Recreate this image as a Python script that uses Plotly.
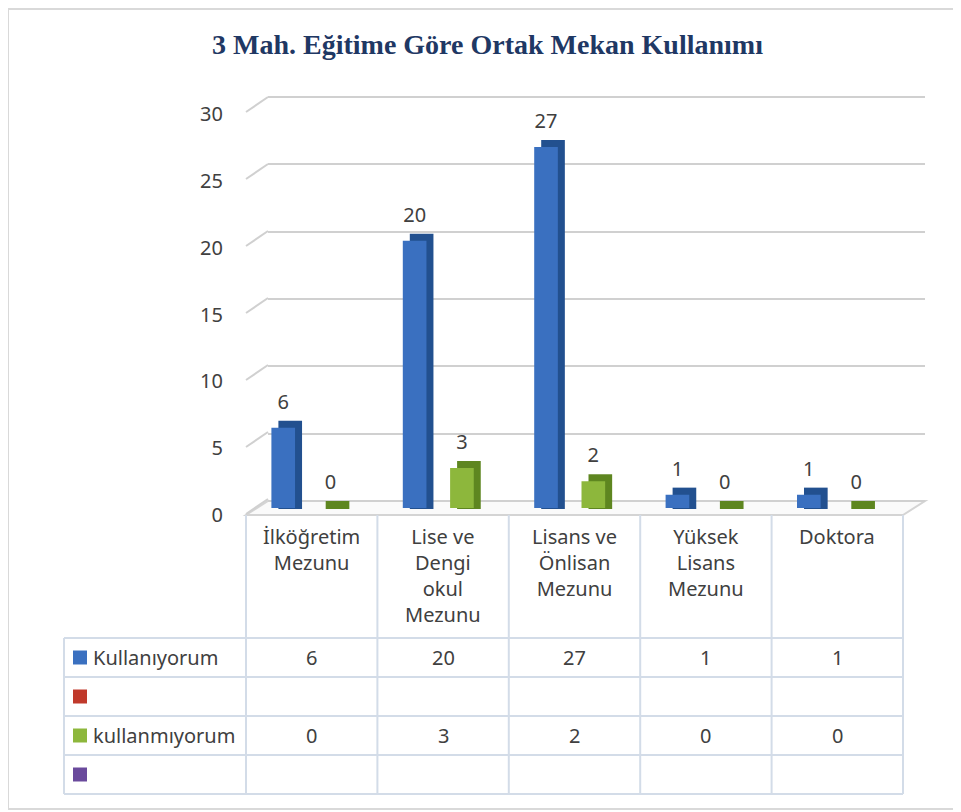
import plotly.graph_objects as go

# ---- data ----
categories = ["İlköğretim<br>Mezunu", "Lise ve<br>Dengi<br>okul<br>Mezunu",
              "Lisans ve<br>Önlisan<br>Mezunu", "Yüksek<br>Lisans<br>Mezunu", "Doktora"]
series_names = ["Kullanıyorum", "", "kullanmıyorum", ""]
kullaniyorum = [6, 20, 27, 1, 1]
bos_kirmizi = [None, None, None, None, None]
kullanmiyorum = [0, 3, 2, 0, 0]
bos_mor = [None, None, None, None, None]
y_ticks = [0, 5, 10, 15, 20, 25, 30]

series_values = [kullaniyorum, bos_kirmizi, kullanmiyorum, bos_mor]
front_colors = ["#3A70C0", "#C0392B", "#8DB73C", "#6A4A9C"]
side_colors = ["#22508F", "#8E2A20", "#5E8620", "#4A3270"]

# page has an 8px body margin, so figure is sized to the visible area
OFF = 8
FW, FH = 953, 804
FONT = "Noto Sans"
TXT = "#404040"
SLAB = 0.6  # thickness (in value units) of the flat slab shown for 0 values


def px(x):
    return (x - OFF) / FW


def py(y):
    return 1 - (y - OFF) / FH


def ydom(y0_px, y30_px, lo=-0.1, hi=30.1):
    # domain for range [lo, hi] given pixel rows of 0 and 30
    k = (y0_px - y30_px) / 30.0
    return [py(y0_px - lo * k), py(y0_px - hi * k)]


fig = go.Figure()

# invisible trace so the back wall grid subplot exists
fig.add_trace(go.Scatter(x=[categories[0]], y=[0], mode="markers",
                         marker=dict(opacity=0), showlegend=False, hoverinfo="skip"))

# ══════ bars: darker copy shifted up/right = side + top faces ══════
# (base slightly below zero so that 0-values still show a flat slab)
for name, vals, col in zip(series_names, series_values, side_colors):
    fig.add_trace(go.Bar(x=categories, y=[None if v is None else v + SLAB for v in vals],
                         base=-SLAB, marker=dict(color=col, line_width=0),
                         xaxis="x2", yaxis="y2", showlegend=False, hoverinfo="skip"))

# front faces
for name, vals, col in zip(series_names, series_values, front_colors):
    fig.add_trace(go.Bar(
        x=categories, y=vals, name=name,
        marker=dict(color=col, line_width=0),
        xaxis="x3", yaxis="y3", showlegend=False,
    ))

# value labels (transparent bars lifted a little above the 3D tops)
for name, vals in zip(series_names, series_values):
    fig.add_trace(go.Bar(
        x=categories, y=vals, marker=dict(color="rgba(0,0,0,0)", line_width=0),
        text=[("" if v is None else str(v)) for v in vals],
        textposition="outside", cliponaxis=False,
        textfont=dict(family=FONT, size=20, color=TXT),
        xaxis="x4", yaxis="y4", showlegend=False, hoverinfo="skip",
    ))

# ══════ 3D decorations: floor + gridline stubs ══════
shapes = []
shapes.append(dict(type="path", xref="paper", yref="paper",
                   path=f"M {px(246)},{py(515)} L {px(903)},{py(515)} L {px(925)},{py(501)} "
                        f"L {px(268)},{py(501)} Z",
                   fillcolor="#FAFAFA", line=dict(color="#D4D4D4", width=2), layer="below"))
for t in y_ticks:
    ylab = 515 - t * (515 - 113) / 30
    shapes.append(dict(type="line", xref="paper", yref="paper",
                       x0=px(246), y0=py(ylab - 1), x1=px(268), y1=py(ylab - 16),
                       line=dict(color="#D0D0D0", width=2), layer="below"))

# ══════ data table ══════
col_x = [246 + i * 131.4 for i in range(6)]
row_y = [638, 677, 716, 755, 794]
grid_col = "#D3DCE8"
for x in col_x:
    shapes.append(dict(type="line", xref="paper", yref="paper",
                       x0=px(x), x1=px(x), y0=py(515), y1=py(794),
                       line=dict(color=grid_col, width=2)))
shapes.append(dict(type="line", xref="paper", yref="paper",
                   x0=px(64), x1=px(64), y0=py(638), y1=py(794),
                   line=dict(color=grid_col, width=2)))
for y in row_y:
    shapes.append(dict(type="line", xref="paper", yref="paper",
                       x0=px(64), x1=px(903), y0=py(y), y1=py(y),
                       line=dict(color=grid_col, width=2)))

annotations = []
for i, cat in enumerate(categories):
    annotations.append(dict(xref="paper", yref="paper", x=px((col_x[i] + col_x[i + 1]) / 2),
                            y=py(521), text=cat, showarrow=False, xanchor="center",
                            yanchor="top", align="center",
                            font=dict(family=FONT, size=20, color=TXT)))

for r, (name, vals, col) in enumerate(zip(series_names, series_values, front_colors)):
    yc = (row_y[r] + row_y[r + 1]) / 2
    shapes.append(dict(type="rect", xref="paper", yref="paper",
                       x0=px(73), x1=px(87), y0=py(yc - 7), y1=py(yc + 7),
                       fillcolor=col, line_width=0))
    if name:
        annotations.append(dict(xref="paper", yref="paper", x=px(91), y=py(yc),
                                text=name, showarrow=False, xanchor="left", yanchor="middle",
                                font=dict(family=FONT, size=20, color=TXT)))
    for i, v in enumerate(vals):
        if v is None:
            continue
        annotations.append(dict(xref="paper", yref="paper",
                                x=px((col_x[i] + col_x[i + 1]) / 2), y=py(yc),
                                text=str(v), showarrow=False, xanchor="center",
                                yanchor="middle", font=dict(family=FONT, size=20, color=TXT)))

# title
annotations.append(dict(xref="paper", yref="paper", x=px(488), y=py(44),
                        text="<b>3 Mah. Eğitime Göre Ortak Mekan Kullanımı</b>",
                        showarrow=False, xanchor="center", yanchor="middle",
                        font=dict(family="Liberation Serif", size=28, color="#1F3864")))

# outer chart frame
shapes.append(dict(type="rect", xref="paper", yref="paper",
                   x0=px(8), x1=px(957), y0=py(9), y1=py(809),
                   line=dict(color="#D9D9D9", width=2), layer="below"))

# ══════ layout ══════
hidden_x = dict(type="category", showticklabels=False, showgrid=False, zeroline=False,
                showline=False, ticks="", automargin=False)
fig.update_layout(
    width=FW, height=FH,
    margin=dict(l=0, r=0, t=0, b=0, pad=0),
    paper_bgcolor="white",
    plot_bgcolor="rgba(0,0,0,0)",
    barmode="group",
    bargap=0.28,
    bargroupgap=0,
    showlegend=False,
    # back wall grid
    xaxis=dict(hidden_x, domain=[px(268), px(925)]),
    yaxis=dict(range=[-0.1, 30.1], domain=ydom(501, 97), dtick=5, showticklabels=False,
               showgrid=True, gridcolor="#D0D0D0", gridwidth=2, zeroline=False,
               anchor="x", automargin=False),
    # side/top faces
    xaxis2=dict(hidden_x, domain=[px(260), px(917)], anchor="y2"),
    yaxis2=dict(range=[-SLAB - 0.1, 30.1], domain=ydom(501, 100, lo=-SLAB - 0.1),
                visible=False, anchor="x2", automargin=False),
    # front faces, carries tick labels
    xaxis3=dict(hidden_x, domain=[px(253), px(910)], anchor="y3"),
    yaxis3=dict(range=[-0.1, 30.1], domain=ydom(508, 107), dtick=5, showgrid=False,
                zeroline=False, showline=False, ticks="", anchor="x3", automargin=False,
                ticklabelshift=7, ticklabelstandoff=29,
                tickfont=dict(family=FONT, size=20, color=TXT)),
    # label carrier
    xaxis4=dict(hidden_x, domain=[px(253), px(910)], anchor="y4"),
    yaxis4=dict(range=[-0.1, 30.1], domain=ydom(498, 97), visible=False, anchor="x4",
                automargin=False),
    shapes=shapes,
    annotations=annotations,
)

fig.write_html("out.html")
